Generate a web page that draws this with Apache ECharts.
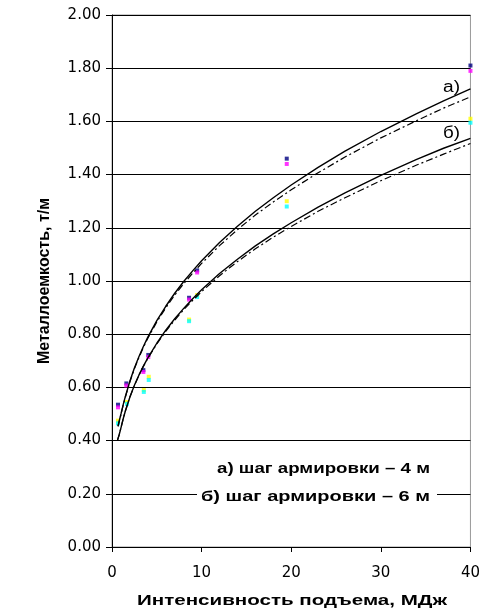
<!DOCTYPE html>
<html><head><meta charset="utf-8">
<script src="https://cdn.jsdelivr.net/npm/echarts@6/dist/echarts.min.js"></script>
<style>html,body{margin:0;padding:0;background:#fff}#c{width:483px;height:610px}</style>
</head><body><div id="c"></div>
<script>
// ---- data ----
const xAxisName = 'Интенсивность подъема, МДж';
const yAxisName = 'Металлоемкость, т/м';
const legendTexts = ['а) шаг армировки – 4 м', 'б) шаг армировки – 6 м'];
const curveLabels = ['а)', 'б)'];

const navyX = [0.67, 1.6, 3.5, 4.05, 8.6, 9.5, 19.5, 40];
const navyY = [0.535, 0.615, 0.665, 0.722, 0.937, 1.04, 1.46, 1.81];
const magentaX = [0.67, 1.6, 3.5, 4.05, 8.6, 9.5, 19.5, 40];
const magentaY = [0.525, 0.607, 0.658, 0.714, 0.93, 1.032, 1.44, 1.79];
const yellowX = [0.67, 1.67, 3.55, 4.1, 8.6, 9.5, 19.5, 40];
const yellowY = [0.475, 0.545, 0.59, 0.64, 0.855, 0.947, 1.30, 1.61];
const cyanX = [0.67, 1.67, 3.55, 4.1, 8.6, 9.5, 19.5, 40];
const cyanY = [0.465, 0.538, 0.583, 0.628, 0.849, 0.94, 1.28, 1.595];

// trend curves
const aX = [0.67, 1, 1.25, 1.5, 2, 2.5, 3, 3.5, 4, 5, 6, 7, 8, 9, 10, 12, 14, 16, 18, 20, 23, 26, 30, 34, 37, 40];
const aSolid = [0.455, 0.50, 0.535, 0.567, 0.624, 0.673, 0.715, 0.754, 0.789, 0.851, 0.905, 0.954, 0.998, 1.038, 1.076, 1.145, 1.206, 1.262, 1.313, 1.361, 1.427, 1.488, 1.562, 1.629, 1.677, 1.722];
const aDash = [0.453, 0.498, 0.533, 0.565, 0.621, 0.67, 0.712, 0.75, 0.785, 0.846, 0.899, 0.947, 0.99, 1.029, 1.066, 1.133, 1.193, 1.248, 1.297, 1.343, 1.407, 1.466, 1.538, 1.603, 1.65, 1.692];
const bX = [0.6, 0.8, 1, 1.25, 1.5, 2, 2.5, 3, 3.5, 4, 5, 6, 7, 8, 9, 10, 12, 14, 16, 18, 20, 23, 26, 30, 34, 37, 40];
const bSolid = [0.40, 0.422, 0.448, 0.482, 0.512, 0.564, 0.608, 0.646, 0.68, 0.711, 0.766, 0.815, 0.858, 0.897, 0.933, 0.967, 1.028, 1.082, 1.132, 1.177, 1.219, 1.278, 1.331, 1.397, 1.457, 1.499, 1.536];
const bDash = [0.40, 0.422, 0.448, 0.482, 0.512, 0.564, 0.607, 0.645, 0.679, 0.709, 0.763, 0.811, 0.853, 0.892, 0.927, 0.96, 1.02, 1.073, 1.121, 1.165, 1.205, 1.262, 1.313, 1.377, 1.436, 1.477, 1.517];

const xMin = 0, xMax = 40, xStep = 10;
const yMin = 0, yMax = 2, yStep = 0.2;

// ---- helpers ----
const zip = (xs, ys) => xs.map((x, i) => [x, ys[i]]);
const chart = echarts.init(document.getElementById('c'), null, {renderer: 'canvas'});
const mctx = document.createElement('canvas').getContext('2d');
function widthOf(text, font) { mctx.font = font; return mctx.measureText(text).width; }
function stretchedText(text, font, x, y, align, targetW) {
  const s = targetW / widthOf(text, font);
  return {type: 'text', x, y, scaleX: s, z: 101,
    style: {text, font, fill: '#000', align, verticalAlign: 'middle'}};
}

function scatter(name, xs, ys, color) {
  return {name, type: 'scatter', data: zip(xs, ys), symbol: 'rect', symbolSize: [4, 4],
    itemStyle: {color}, z: 3, silent: true};
}
function curve(name, xs, ys, dashed) {
  return {name, type: 'line', data: zip(xs, ys), showSymbol: false, smooth: false,
    lineStyle: {color: '#000', width: dashed ? 1.2 : 1.4, type: dashed ? [7, 3, 2, 3] : 'solid'},
    z: 4, silent: true};
}

const tickFont = {fontFamily: 'DejaVu Sans', fontSize: 15, color: '#000'};
const boldFont = 'bold 15px "Liberation Sans"';

const option = {
  animation: false,
  backgroundColor: '#fff',
  grid: {left: 112, right: 11, top: 15, bottom: 63, show: true, borderColor: '#999', borderWidth: 1},
  xAxis: {
    type: 'value', min: xMin, max: xMax, interval: xStep,
    axisLine: {show: true, onZero: false, lineStyle: {color: '#000', width: 1}},
    axisTick: {show: true, length: 5, lineStyle: {color: '#000'}},
    splitLine: {show: false},
    axisLabel: Object.assign({margin: 19}, tickFont)
  },
  yAxis: {
    type: 'value', min: yMin, max: yMax, interval: yStep,
    axisLine: {show: true, onZero: false, lineStyle: {color: '#000', width: 1}},
    axisTick: {show: true, length: 6, lineStyle: {color: '#000'}},
    splitLine: {show: true, lineStyle: {color: '#000', width: 1}},
    axisLabel: Object.assign({margin: 11, formatter: v => v.toFixed(2)}, tickFont),
    name: yAxisName, nameLocation: 'middle', nameGap: 59, nameRotate: 90,
    nameTextStyle: {fontFamily: 'Liberation Sans', fontWeight: 'bold', fontSize: 16, color: '#000'}
  },
  series: [
    scatter('s1', navyX, navyY, '#000080'),
    scatter('s2', magentaX, magentaY, '#FF00FF'),
    scatter('s3', yellowX, yellowY, '#FFFF00'),
    scatter('s4', cyanX, cyanY, '#00FFFF'),
    curve('a', aX, aSolid, false),
    curve('a2', aX, aDash, true),
    curve('b', bX, bSolid, false),
    curve('b2', bX, bDash, true)
  ],
  graphic: [
    {type: 'rect', shape: {x: 197, y: 455, width: 240, height: 56}, style: {fill: '#fff'}, z: 100},
    stretchedText(legendTexts[0], boldFont, 217, 469, 'left', 213),
    stretchedText(legendTexts[1], boldFont, 201, 497, 'left', 229),
    stretchedText(xAxisName, boldFont, 292, 601, 'center', 310),
    stretchedText(curveLabels[0], '16px "Liberation Sans"', 443, 88, 'left', 17),
    stretchedText(curveLabels[1], '16px "Liberation Sans"', 443, 134, 'left', 17)
  ]
};
chart.setOption(option);
</script></body></html>
